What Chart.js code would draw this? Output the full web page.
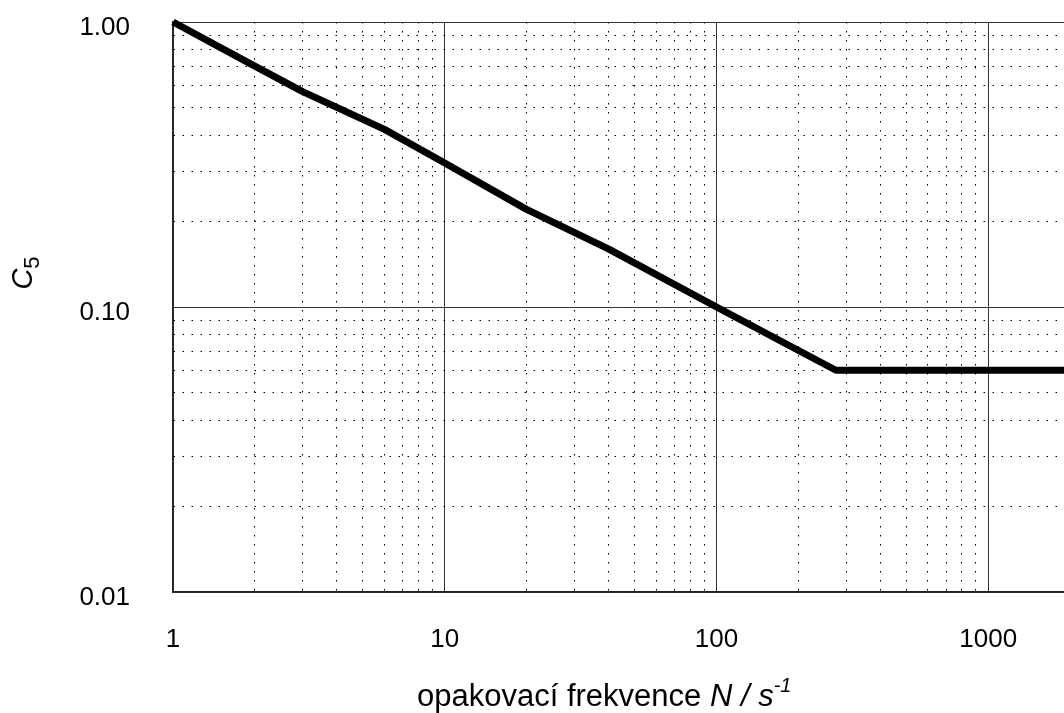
<!DOCTYPE html>
<html>
<head>
<meta charset="utf-8">
<script src="https://cdn.jsdelivr.net/npm/chart.js@4/dist/chart.umd.min.js"></script>
<style>
  html, body { margin: 0; padding: 0; background: #fff; }
  #wrap { width: 1064px; height: 713px; position: relative; }
</style>
</head>
<body>
<div id="wrap"><canvas id="c5Chart"></canvas></div>
<script>
// values
var freqN = [1, 2, 3, 6, 10, 20, 40, 100, 275, 1900];
var c5Values = [1.00, 0.70, 0.57, 0.42, 0.32, 0.22, 0.16, 0.10, 0.06, 0.06];

var xDecades = [1, 10, 100, 1000];
var xTickLabels = ['1', '10', '100', '1000'];
var yDecades = [0.01, 0.1, 1];
var yTickLabels = ['0.01', '0.10', '1.00'];
var xMin = 1, xMax = 1900, yMin = 0.01, yMax = 1;

function buildTicks(decades, lo, hi) {
    var out = [];
    decades.forEach(function (d) {
        for (var m = 1; m <= 9; m++) {
            var v = parseFloat((d * m).toPrecision(6));
            if (v >= lo - 1e-9 && v <= hi + 1e-9) out.push({ value: v });
        }
    });
    return out;
}

function isDecade(v, decades) {
    for (var i = 0; i < decades.length; i++) {
        if (Math.abs(v - decades[i]) < decades[i] * 1e-6) return i;
    }
    return -1;
}

function gridColor(decades) {
    return function (ctx) {
        if (!ctx.tick) return '#000';
        return isDecade(ctx.tick.value, decades) >= 0 ? '#333' : '#000';
    };
}
function gridDash(decades) {
    return function (ctx) {
        if (!ctx.tick) return [];
        return isDecade(ctx.tick.value, decades) >= 0 ? [] : [1.5, 7.5];
    };
}

// axis titles with italic / sub / superscript parts
var titlesPlugin = {
    id: 'titles',
    afterDraw: function (chart) {
        var ctx = chart.ctx;
        ctx.save();
        ctx.fillStyle = '#000';
        ctx.textBaseline = 'alphabetic';

        // y title: C5, rotated
        ctx.translate(32, 273);
        ctx.rotate(-Math.PI / 2);
        ctx.font = 'italic 29px "Liberation Sans", Arial, sans-serif';
        var wC = ctx.measureText('C').width;
        ctx.font = '22px "Liberation Sans", Arial, sans-serif';
        var w5 = ctx.measureText('5').width;
        var x0 = -(wC + w5) / 2;
        ctx.font = 'italic 29px "Liberation Sans", Arial, sans-serif';
        ctx.fillText('C', x0, 0);
        ctx.font = '22px "Liberation Sans", Arial, sans-serif';
        ctx.fillText('5', x0 + wC, 7);
        ctx.restore();

        // x title
        ctx.save();
        ctx.fillStyle = '#000';
        var reg = '31px "Liberation Sans", Arial, sans-serif';
        var ita = 'italic 31px "Liberation Sans", Arial, sans-serif';
        var sup = 'italic 20px "Liberation Sans", Arial, sans-serif';
        var parts = [
            { t: 'opakovací frekvence ', f: reg, dy: 0 },
            { t: 'N', f: ita, dy: 0 },
            { t: ' / ', f: ita, dy: 0 },
            { t: 's', f: ita, dy: 0 },
            { t: '-1', f: sup, dy: -14 }
        ];
        var total = 0;
        parts.forEach(function (p) { ctx.font = p.f; p.w = ctx.measureText(p.t).width; total += p.w; });
        var x = 417;
        var base = 706;
        parts.forEach(function (p) {
            ctx.font = p.f;
            ctx.fillText(p.t, x, base + p.dy);
            x += p.w;
        });
        ctx.restore();
    }
};

var points = freqN.map(function (n, i) { return { x: n, y: c5Values[i] }; });

new Chart(document.getElementById('c5Chart'), {
    type: 'line',
    data: {
        datasets: [{
            data: points,
            borderColor: '#000',
            borderWidth: 7,
            pointRadius: 0,
            tension: 0,
            fill: false,
            clip: false,
            borderJoinStyle: 'round'
        }]
    },
    options: {
        responsive: true,
        maintainAspectRatio: false,
        animation: false,
        layout: { padding: { top: 22, right: 0, left: 0, bottom: 0 } },
        plugins: { legend: { display: false }, tooltip: { enabled: false } },
        scales: {
            x: {
                type: 'logarithmic',
                min: xMin,
                max: xMax,
                afterBuildTicks: function (scale) { scale.ticks = buildTicks(xDecades, xMin, xMax); },
                afterFit: function (scale) {
                    scale.height = 121;
                    scale.paddingLeft = 0; scale.paddingRight = 0;
                },
                grid: { color: gridColor(xDecades), lineWidth: 1, drawTicks: false },
                border: { display: true, color: '#222', width: 1.5, dash: gridDash(xDecades) },
                ticks: {
                    autoSkip: false,
                    maxRotation: 0,
                    padding: 32,
                    color: '#000',
                    font: { family: '"Liberation Sans", Arial, sans-serif', size: 26 },
                    callback: function (value) {
                        var i = isDecade(value, xDecades);
                        return i >= 0 ? xTickLabels[i] : '';
                    }
                }
            },
            y: {
                type: 'logarithmic',
                min: yMin,
                max: yMax,
                afterBuildTicks: function (scale) { scale.ticks = buildTicks(yDecades, yMin, yMax); },
                afterFit: function (scale) {
                    scale.width = 173;
                    scale.paddingTop = 0; scale.paddingBottom = 0;
                },
                grid: { color: gridColor(yDecades), lineWidth: 1, drawTicks: false },
                border: { display: true, color: '#222', width: 1.5, dash: gridDash(yDecades) },
                ticks: {
                    autoSkip: false,
                    padding: 43,
                    labelOffset: 6,
                    color: '#000',
                    font: { family: '"Liberation Sans", Arial, sans-serif', size: 26 },
                    callback: function (value) {
                        var i = isDecade(value, yDecades);
                        return i >= 0 ? yTickLabels[i] : '';
                    }
                }
            }
        }
    },
    plugins: [titlesPlugin]
});
</script>
</body>
</html>
